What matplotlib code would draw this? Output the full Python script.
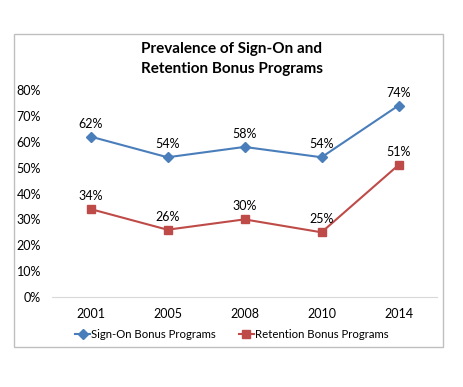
import matplotlib.pyplot as plt
from matplotlib.patches import Rectangle

years = ['2001', '2005', '2008', '2010', '2014']
sign_on = [62, 54, 58, 54, 74]
retention = [34, 26, 30, 25, 51]
yticks = [0, 10, 20, 30, 40, 50, 60, 70, 80]

blue = '#4A7EBB'
red = '#BE4B48'
plt.rcParams['font.family'] = ['Lato', 'DejaVu Sans']

W, H = 464, 387
fig = plt.figure(figsize=(W / 100, H / 100), dpi=100)

# outer chart border
fig.patches.append(Rectangle((14 / W, 1 - 347 / H), 429 / W, 313 / H,
                             transform=fig.transFigure, fill=False,
                             edgecolor='#BFBFBF', linewidth=1.0))

ax = fig.add_axes([52 / W, 1 - 297 / H, 385 / W, 207 / H])
x = list(range(len(years)))
ax.plot(x, sign_on, color=blue, marker='D', markersize=5, linewidth=1.5,
        label='Sign-On Bonus Programs')
ax.plot(x, retention, color=red, marker='s', markersize=6, linewidth=1.5,
        label='Retention Bonus Programs')

for xi, v in zip(x, sign_on):
    ax.annotate(f'{v}%', (xi, v), xytext=(0, 5), textcoords='offset points',
                ha='center', va='bottom', fontsize=9)
for xi, v in zip(x, retention):
    ax.annotate(f'{v}%', (xi, v), xytext=(0, 5), textcoords='offset points',
                ha='center', va='bottom', fontsize=9)

ax.set_xlim(-0.5, len(years) - 0.5)
ax.set_ylim(0, 80)
ax.set_xticks(x)
ax.set_xticklabels(years, fontsize=9)
ax.set_yticks(yticks)
ax.set_yticklabels([f'{t}%' for t in yticks], fontsize=9)
ax.tick_params(length=0, pad=8)
for s in ['top', 'right', 'left']:
    ax.spines[s].set_visible(False)
ax.spines['bottom'].set_color('#D9D9D9')

fig.text(0.5, 1 - 59 / H, 'Prevalence of Sign-On and\nRetention Bonus Programs',
         ha='center', va='center', fontsize=11, fontweight='bold',
         linespacing=1.6)

fig.legend(loc='center', bbox_to_anchor=(0.5, 1 - 334 / H), ncol=2,
           frameon=False, fontsize=8.2, handlelength=1.3, handletextpad=0.1,
           columnspacing=2.0)

fig.savefig('out.png', dpi=100)
